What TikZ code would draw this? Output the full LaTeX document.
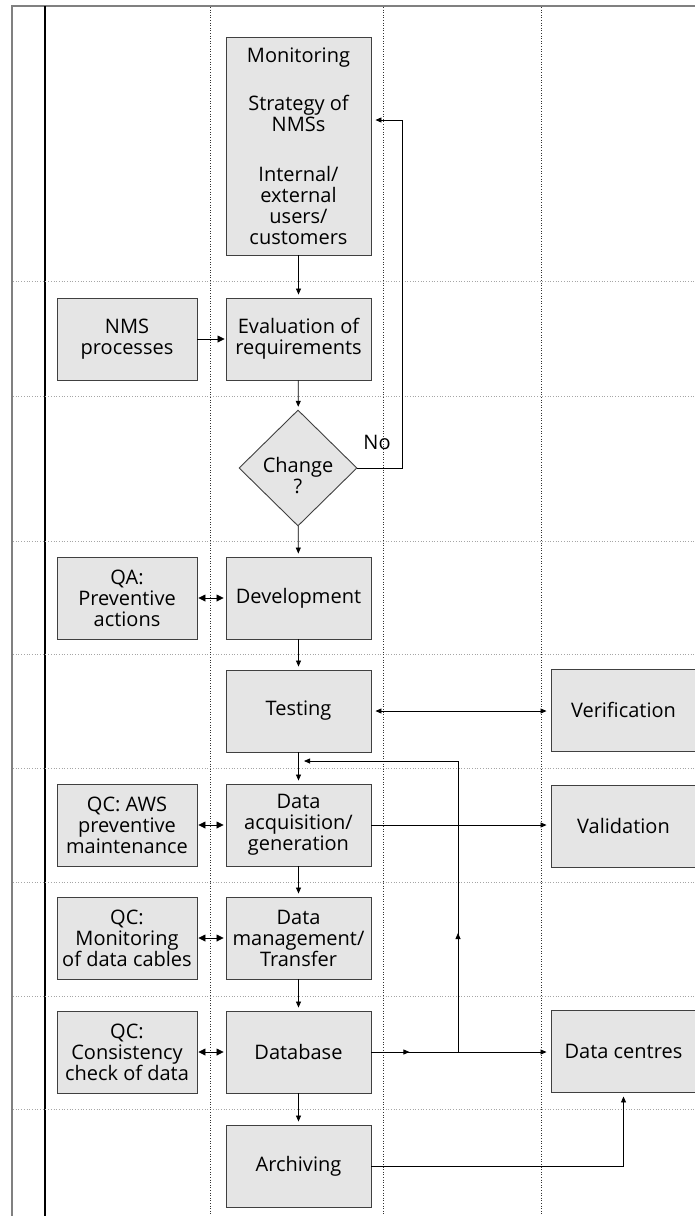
\documentclass[tikz,border=0pt]{standalone}
\usepackage{fontspec}
\setmainfont{Open Sans}
\usetikzlibrary{shapes.geometric,arrows.meta}

\newcommand{\boxfont}{\fontsize{20}{21}\selectfont}

\tikzset{
    box/.style={draw=black!75, fill=black!10, line width=0.9pt, minimum width=145pt,
        minimum height=82pt, align=center, inner sep=1pt, font=\boxfont},
    sidebox/.style={box, minimum width=140pt},
    dec/.style={diamond, draw=black!75, fill=black!10, line width=0.9pt, minimum width=118pt,
        minimum height=116pt, align=center, inner sep=0pt, font=\boxfont},
    flow/.style={-{Triangle[length=6pt,width=5pt]}, line width=0.8pt, shorten >=3pt},
    feed/.style={-{Triangle[length=7pt,width=7pt]}, line width=0.8pt, shorten >=1pt},
    twoway/.style={{Triangle[length=6pt,width=5pt]}-{Triangle[length=6pt,width=5pt]}, line width=0.8pt,
        shorten <=4pt, shorten >=4pt},
    pair/.style={{Triangle[length=7pt,width=7pt]}-{Triangle[length=7pt,width=7pt]}, line width=0.8pt,
        shorten <=1pt, shorten >=2pt},
}

\begin{document}
\begin{tikzpicture}[x=1pt, y=-1pt]
    \useasboundingbox (0,0) rectangle (695,1216);

    % 外框
    \draw[black!50, line width=1.4pt] (12,1216) -- (12,6) -- (695,6);
    \draw[black, line width=1.3pt] (45,6) -- (45,1216);

    % 分行虚线
    \foreach \y in {281,396,541,654,768,882,996,1109} {
        \draw[black!35, dotted, line width=0.7pt] (13,\y) -- (695,\y);
    }

    % 分栏虚线
    \foreach \x in {210,383,541} {
        \draw[black!80, dotted, line width=0.6pt] (\x,7) -- (\x,1216);
    }

    % 中间一栏
    \node[box, minimum height=218pt] (mon) at (298.5,146)
        {Monitoring\\[27pt]Strategy of\\NMSs\\[29pt]Internal/\\external\\users/\\customers};
    \node[box] (eval) at (298.5,339) {Evaluation of\\requirements};
    \node[dec, label={[font=\boxfont, align=center, yshift=-8pt]center:{Change\\?}}] (chg) at (298,468) {};
    \node[box] (dev) at (298.5,598) {Development};
    \node[box] (test) at (298.5,711) {Testing};
    \node[box] (daq) at (298.5,825) {Data\\acquisition/\\generation};
    \node[box] (dm) at (298.5,938) {Data\\management/\\Transfer};
    \node[box] (db) at (298.5,1052) {Database};
    \node[box] (arch) at (298.5,1166) {Archiving};

    % 左边一栏
    \node[sidebox] (nms) at (127,339) {NMS\\processes};
    \node[sidebox] (qa) at (127,598) {QA:\\Preventive\\actions};
    \node[sidebox] (aws) at (127,825) {QC: AWS\\preventive\\maintenance};
    \node[sidebox] (qcm) at (127,938) {QC:\\Monitoring\\of data cables};
    \node[sidebox] (qcc) at (127,1052) {QC:\\Consistency\\check of data};

    % 右边一栏
    \node[box] (verif) at (623.5,710) {Verification};
    \node[box] (valid) at (623.5,826) {Validation};
    \node[box] (dc) at (623.5,1051) {Data centres};

    % 主流程
    \draw[flow] (mon) -- (eval);
    \draw[flow] (eval) -- (chg);
    \draw[flow] (chg) -- (dev);
    \draw[flow] (dev) -- (test);
    \draw[flow] (test) -- (daq);
    \draw[flow] (daq) -- (dm);
    \draw[flow] (dm) -- (db);
    \draw[flow] (db) -- (arch);

    % 左右连线
    \draw[feed] (nms) -- (eval);
    \draw[pair] (qa) -- (dev);
    \draw[pair] (aws) -- (daq);
    \draw[pair] (qcm) -- (dm);
    \draw[pair] (qcc) -- (db);
    \draw[twoway] (test.east) -- (verif.west |- test.east);
    \draw[flow, shorten >=4pt] (daq.east) -- (valid.west |- daq.east);

    % No 回到 Monitoring
    \coordinate (fb) at (402,120);
    \draw[flow, shorten >=4pt] (chg.east) -| (fb) -- (mon.east |- fb);
    \node[font=\boxfont] (no) at (377,442) {No};

    % Database 到 Data centres, 并回到 Testing 下面
    \coordinate (jn) at (458,1052);
    \coordinate (up) at (458,761);
    \coordinate (back) at (304,761);
    \draw[flow, shorten >=4pt] (db.east) -- (dc.west |- db.east);
    \draw[flow, shorten >=0pt] (db.east) -- ([xshift=38pt]db.east);
    \draw[flow, shorten >=0pt] (jn) -- (up) -- (back);
    \draw[flow, shorten >=0pt] (jn) -- (458,933);

    % Archiving 到 Data centres
    \draw[flow, shorten >=4pt] (arch.east) -| (dc.south);
\end{tikzpicture}
\end{document}
